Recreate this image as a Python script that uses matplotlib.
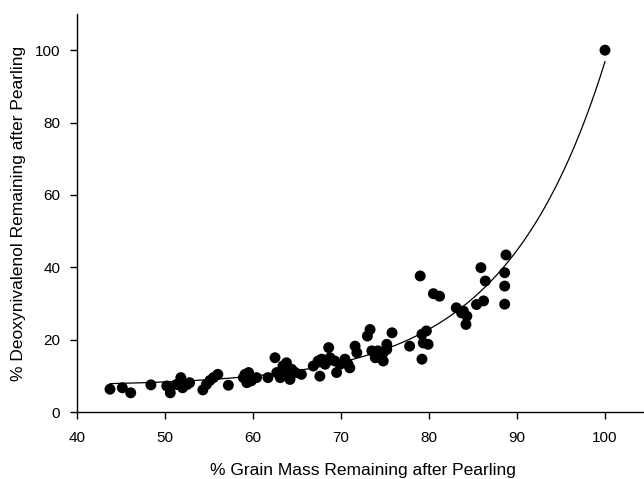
import numpy as np
import matplotlib
matplotlib.use("Agg")
import matplotlib.pyplot as plt

# % grain mass remaining after pearling
grain_mass = [
    43.75, 45.15, 46.1, 48.4, 50.2, 50.6, 51.3, 51.8, 52.0, 52.5, 52.8,
    54.3, 54.7, 55.1, 55.5, 56.0, 57.2, 58.9, 59.1, 59.5, 59.3, 59.8, 60.4,
    61.7, 62.5, 62.7, 63.1, 63.4, 63.8, 63.6, 64.2, 64.4, 64.8, 65.5,
    66.85, 67.4, 67.8, 67.6, 68.2, 68.6, 68.75, 69.3, 69.5, 69.9, 70.45,
    70.8, 71.0, 71.6, 71.8, 73.3, 73.0, 73.5, 73.9, 74.2, 74.8, 74.8, 75.2,
    75.8, 75.2, 77.8, 79.2, 79.7, 79.9, 79.35, 79.2, 79.0, 80.5, 81.2,
    83.1, 83.7, 84.3, 84.2, 83.9, 85.4, 86.2, 86.4, 85.9, 88.75, 88.6,
    88.6, 88.6, 100.0,
]
# % deoxynivalenol remaining after pearling
don_remaining = [
    6.3, 6.7, 5.3, 7.5, 7.2, 5.3, 7.6, 9.5, 6.7, 7.6, 8.1,
    6.1, 7.6, 8.7, 9.5, 10.4, 7.4, 9.5, 10.4, 10.9, 8.1, 8.6, 9.5,
    9.5, 15.0, 10.9, 9.5, 12.7, 13.6, 10.4, 9.0, 11.8, 10.9, 10.4,
    12.7, 14.1, 14.6, 9.9, 13.2, 17.8, 15.0, 14.1, 10.9, 13.2, 14.6,
    13.2, 12.2, 18.2, 16.4, 22.8, 21.0, 16.9, 15.0, 16.9, 14.1, 16.4, 18.7,
    21.9, 17.3, 18.2, 21.5, 22.4, 18.7, 19.1, 14.6, 37.6, 32.7, 32.0,
    28.8, 27.4, 26.5, 24.2, 27.9, 29.7, 30.7, 36.2, 39.9, 43.4, 38.5,
    34.8, 29.8, 100.0,
]

x_ticks = [40, 50, 60, 70, 80, 90, 100]
y_ticks = [0, 20, 40, 60, 80, 100]

x = np.array(grain_mass)
y = np.array(don_remaining)

# Exponential growth fit: y = y0 + a*exp(b*x)
best = None
for b in np.linspace(0.02, 0.2, 1801):
    A = np.column_stack([np.ones_like(x), np.exp(b * x)])
    coef, res, *_ = np.linalg.lstsq(A, y, rcond=None)
    sse = np.sum((A @ coef - y) ** 2)
    if best is None or sse < best[0]:
        best = (sse, b, coef)
_, b_fit, (y0_fit, a_fit) = best
xf = np.linspace(x.min(), x.max(), 300)
yf = y0_fit + a_fit * np.exp(b_fit * xf)

plt.rcParams['font.family'] = ['Liberation Sans', 'DejaVu Sans']

fig = plt.figure(figsize=(6.44, 4.79), dpi=100)
ax = fig.add_axes([77 / 644, 67 / 479, (649 - 77) / 644, 398 / 479])

ax.plot(xf, yf, color='black', linewidth=0.9, zorder=2)
ax.scatter(x, y, s=62, color='black', edgecolors='none', zorder=3, clip_on=False)

ax.set_xlim(40, 105)
ax.set_ylim(0, 110)
ax.set_xticks(x_ticks)
ax.set_yticks(y_ticks)
ax.tick_params(axis='both', direction='out', length=5, width=1, labelsize=11,
               colors='black')
ax.tick_params(axis='x', pad=9)
ax.tick_params(axis='y', pad=7)

for side in ['top', 'right']:
    ax.spines[side].set_visible(False)
for side in ['left', 'bottom']:
    ax.spines[side].set_linewidth(1.0)

ax.set_xlabel('% Grain Mass Remaining after Pearling', fontsize=12.5, labelpad=13)
ax.set_ylabel('% Deoxynivalenol Remaining after Pearling', fontsize=12.5, labelpad=6)

fig.savefig('out.png', dpi=100)
